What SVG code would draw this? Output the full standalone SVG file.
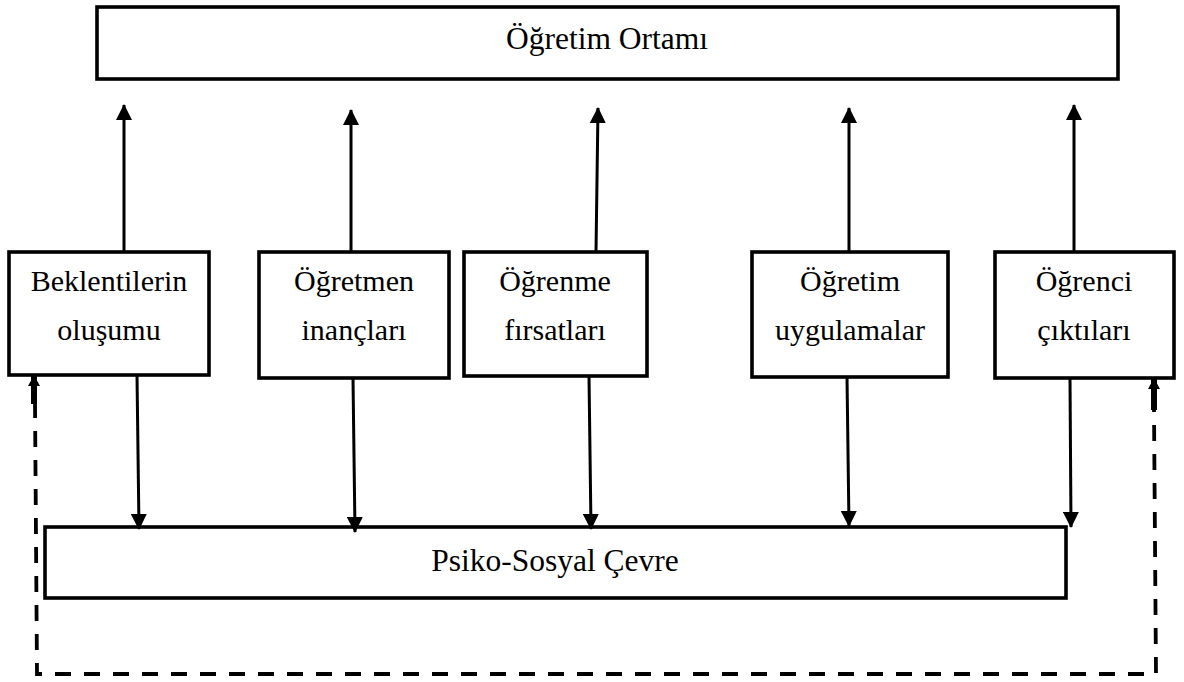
<svg xmlns="http://www.w3.org/2000/svg" width="1184" height="682" viewBox="0 0 1184 682">
<defs>
<style>
.box{fill:#fff;stroke:#000;stroke-width:3.6}
.lbl{font-family:"Liberation Serif","Times New Roman",serif;font-size:30px;fill:#000;text-anchor:middle}
.big{font-size:31.5px}
.arr{stroke:#000;stroke-width:3;fill:none}
.dash{stroke:#000;stroke-width:3.8;fill:none;stroke-dasharray:16 13}
.thick{stroke:#000;stroke-width:6;fill:none}
</style>
<marker id="ah" viewBox="0 0 16 16" refX="15" refY="8" markerWidth="16" markerHeight="16" markerUnits="userSpaceOnUse" orient="auto">
<path d="M0,0 L16,8 L0,16 Z" fill="#000"/>
</marker>
<marker id="ahs" viewBox="0 0 11 12" refX="10" refY="6" markerWidth="11" markerHeight="12" markerUnits="userSpaceOnUse" orient="auto">
<path d="M0,0 L11,6 L0,12 Z" fill="#000"/>
</marker>
</defs>
<rect width="1184" height="682" fill="#fff"/>
<g id="ogretim-ortami">
<rect class="box" x="97" y="7" width="1021" height="72"/>
<text class="lbl big" x="607" y="49">Öğretim Ortamı</text>
</g>
<g id="beklentilerin">
<rect class="box" x="9" y="252" width="200" height="123"/>
<text class="lbl" x="109" y="291">Beklentilerin</text>
<text class="lbl" x="109" y="340">oluşumu</text>
</g>
<g id="ogretmen">
<rect class="box" x="259" y="252" width="190" height="126"/>
<text class="lbl" x="354" y="291">Öğretmen</text>
<text class="lbl" x="354" y="340">inançları</text>
</g>
<g id="ogrenme">
<rect class="box" x="464" y="252" width="183" height="124"/>
<text class="lbl" x="555" y="291">Öğrenme</text>
<text class="lbl" x="555" y="340">fırsatları</text>
</g>
<g id="ogretim">
<rect class="box" x="752" y="252" width="196" height="125"/>
<text class="lbl" x="850" y="291">Öğretim</text>
<text class="lbl" x="850" y="340">uygulamalar</text>
</g>
<g id="ogrenci">
<rect class="box" x="995" y="252" width="179" height="126"/>
<text class="lbl" x="1084" y="291">Öğrenci</text>
<text class="lbl" x="1084" y="340">çıktıları</text>
</g>
<g id="psiko-sosyal">
<rect class="box" x="45" y="527" width="1021" height="71"/>
<text class="lbl big" x="555" y="571">Psiko-Sosyal Çevre</text>
</g>
<g id="connectors">
<line class="arr" x1="124" y1="252" x2="124" y2="105" marker-end="url(#ah)"/>
<line class="arr" x1="351" y1="252" x2="351" y2="110" marker-end="url(#ah)"/>
<line class="arr" x1="596" y1="252" x2="598" y2="108" marker-end="url(#ah)"/>
<line class="arr" x1="849" y1="252" x2="849" y2="108" marker-end="url(#ah)"/>
<line class="arr" x1="1074" y1="252" x2="1074" y2="105" marker-end="url(#ah)"/>
<line class="arr" x1="137" y1="375" x2="139" y2="529" marker-end="url(#ah)"/>
<line class="arr" x1="353" y1="378" x2="355" y2="532" marker-end="url(#ah)"/>
<line class="arr" x1="589" y1="376" x2="591" y2="529" marker-end="url(#ah)"/>
<line class="arr" x1="847" y1="377" x2="849" y2="526" marker-end="url(#ah)"/>
<line class="arr" x1="1070" y1="378" x2="1071" y2="527" marker-end="url(#ah)"/>
<path class="dash" d="M35,402 L37,674 L1156,674 L1154,410"/>
<line class="thick" x1="34" y1="404" x2="34" y2="376" marker-end="url(#ahs)"/>
<line class="thick" x1="1154" y1="410" x2="1154" y2="379" marker-end="url(#ahs)"/>
</g>
</svg>
